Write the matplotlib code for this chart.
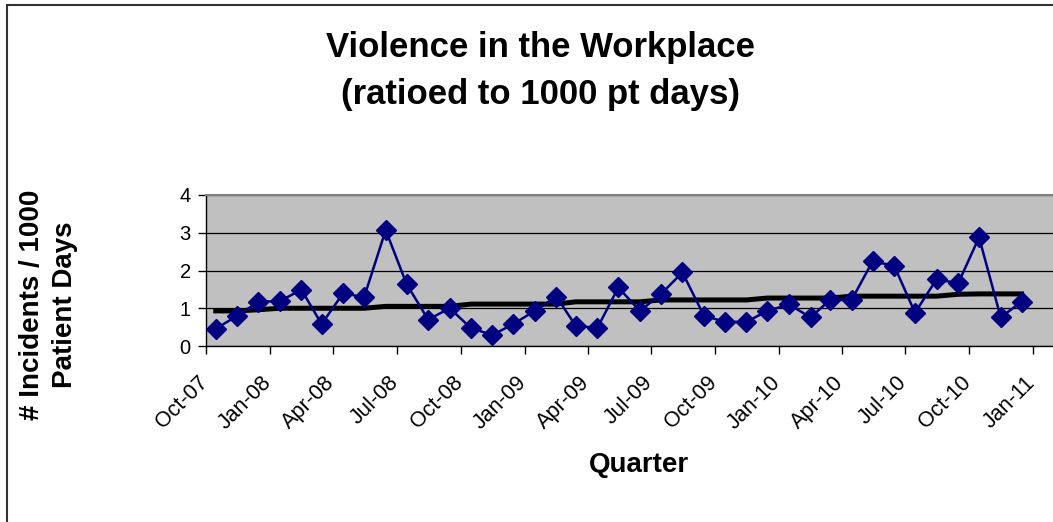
import matplotlib

matplotlib.use("Agg")

import matplotlib.dates as mdates
import matplotlib.pyplot as plt
import matplotlib.transforms as mtransforms
import pandas as pd
from matplotlib.patches import Rectangle


# monthly rates, Oct-07 .. Dec-10 (plotted mid-month)
months = pd.date_range("2007-10-01", "2010-12-01", freq="MS") + pd.Timedelta(days=14)
incidents = [
    0.46, 0.80, 1.17, 1.19, 1.49, 0.58, 1.40, 1.29, 3.07, 1.64,
    0.70, 1.00, 0.48, 0.29, 0.58, 0.93, 1.31, 0.53, 0.48, 1.55,
    0.93, 1.37, 1.95, 0.80, 0.64, 0.64, 0.93, 1.10, 0.76, 1.22,
    1.22, 2.24, 2.13, 0.88, 1.77, 1.66, 2.88, 0.76, 1.17,
]
trend = [
    0.93, 0.93, 0.96, 1.00, 1.00, 1.00, 1.00, 1.00, 1.05, 1.05,
    1.05, 1.05, 1.11, 1.11, 1.11, 1.11, 1.11, 1.17, 1.17, 1.17,
    1.17, 1.22, 1.22, 1.22, 1.22, 1.22, 1.27, 1.27, 1.27, 1.27,
    1.32, 1.32, 1.32, 1.32, 1.32, 1.37, 1.38, 1.38, 1.38,
]
quarter_ticks = pd.date_range("2007-10-01", "2011-01-01", freq="QS-JAN")

title = "Violence in the Workplace\n(ratioed to 1000 pt days)"
x_label = "Quarter"
y_label = "# Incidents / 1000\nPatient Days"

plt.rcParams["font.family"] = ["Liberation Sans", "DejaVu Sans"]

fig = plt.figure(figsize=(10.53, 5.22), dpi=100)
fig.patches.append(
    Rectangle((7 / 1053, -0.1), 1.2, 1 - 5 / 522 + 0.1, transform=fig.transFigure,
              fill=False, edgecolor="#333333", linewidth=1.5)
)

ax = fig.add_axes([206 / 1053, 1 - 346 / 522, 849 / 1053, 151 / 522])
ax.set_facecolor("#C0C0C0")

ax.plot(months, trend, color="black", linewidth=3.6, zorder=3)
ax.plot(months, incidents, color="#000080", linewidth=1.8, marker="D",
        markersize=10.5, zorder=4)

ax.set_ylim(0, 4)
ax.set_yticks([0, 1, 2, 3, 4])
ax.set_xlim(pd.Timestamp("2007-10-01"), pd.Timestamp("2011-02-01"))
ax.set_xticks(quarter_ticks)
ax.xaxis.set_major_formatter(mdates.DateFormatter("%b-%y"))

ax.yaxis.grid(True, color="black", linewidth=0.9)
ax.set_axisbelow(True)

for side in ["top", "right"]:
    ax.spines[side].set_color("#808080")
    ax.spines[side].set_linewidth(1.5)
for side in ["left", "bottom"]:
    ax.spines[side].set_color("black")
    ax.spines[side].set_linewidth(1.0)

ax.tick_params(axis="both", direction="out", length=6, width=1)
ax.tick_params(axis="y", labelsize=14.5, pad=5)
ax.tick_params(axis="x", labelsize=15.5, pad=13)
shift = mtransforms.ScaledTranslation(-0.09, 0, fig.dpi_scale_trans)
for lbl in ax.get_xticklabels():
    lbl.set_rotation(45)
    lbl.set_ha("right")
    lbl.set_va("top")
    lbl.set_rotation_mode("anchor")
    lbl.set_transform(lbl.get_transform() + shift)

fig.text(0.607, 1 - 465 / 522, x_label, ha="center", va="center",
         fontsize=20, fontweight="bold")
fig.text(0.513, 1 - 71 / 522, title, ha="center", va="center", fontsize=25,
         fontweight="bold", linespacing=1.55)
fig.text(0.046, 0.416, y_label, ha="center", va="center", rotation=90,
         fontsize=20, fontweight="bold", linespacing=1.33)

fig.savefig("out.png", dpi=100)
